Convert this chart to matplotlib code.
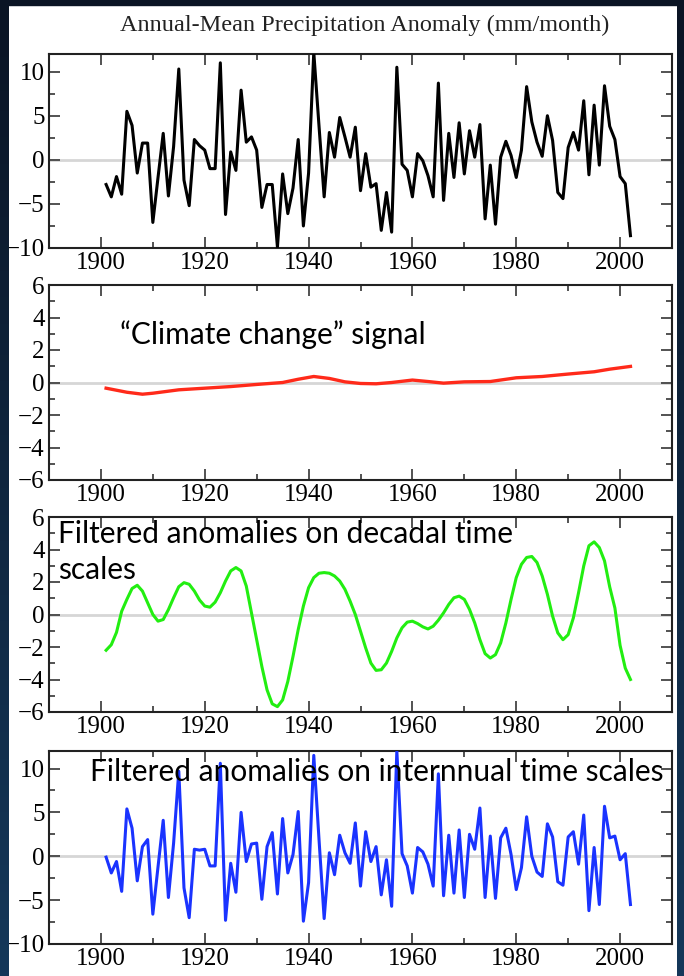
import numpy as np
import matplotlib
matplotlib.use("Agg")
import matplotlib.pyplot as plt
from matplotlib.ticker import MultipleLocator
from matplotlib.patches import Rectangle

# ── data ──────────────────────────────────────────────────────────────
years = list(range(1901, 2003))

annual = [
    -2.8, -4.2, -1.9, -3.9, 5.5, 3.9, -1.5, 1.9, 1.9, -7.1,
    -2.0, 3.0, -4.1, 1.5, 10.3, -2.3, -5.2, 2.3, 1.6, 1.1,
    -1.0, -1.0, 11.0, -6.2, 0.9, -1.2, 7.9, 2.0, 2.6, 1.1,
    -5.4, -2.8, -2.8, -9.9, -1.6, -6.1, -3.2, 2.3, -7.5, -1.5,
    12.2, 3.9, -4.2, 3.1, 0.3, 4.8, 2.6, 0.3, 3.7, -3.5,
    0.7, -3.1, -2.7, -8.0, -3.7, -8.2, 10.5, -0.5, -1.2, -4.2,
    0.7, -0.1, -1.8, -4.2, 8.7, -4.6, 3.0, -2.0, 4.2, -1.6,
    3.3, 0.3, 4.0, -6.7, -0.6, -7.3, 0.3, 2.1, 0.5, -2.0,
    1.1, 8.3, 4.3, 2.0, 0.4, 5.0, 2.2, -3.7, -4.4, 1.4,
    3.1, 1.1, 6.7, -1.7, 6.2, -0.6, 8.4, 3.8, 2.3, -1.9,
    -2.7, -8.6,
]

trend_years = [1901, 1905, 1908, 1910, 1915, 1920, 1925, 1930, 1935, 1938,
               1941, 1944, 1947, 1950, 1953, 1956, 1960, 1963, 1966, 1970,
               1975, 1980, 1985, 1990, 1995, 1998, 2002]
trend = [-0.35, -0.6, -0.72, -0.66, -0.45, -0.35, -0.25, -0.12, 0.0, 0.2,
         0.37, 0.25, 0.04, -0.06, -0.08, 0.0, 0.15, 0.06, -0.04, 0.04,
         0.06, 0.29, 0.37, 0.52, 0.66, 0.82, 0.99]

decadal = [
    -2.2, -1.86, -1.1, 0.2, 0.93, 1.6, 1.8, 1.44, 0.72, 0.0,
    -0.41, -0.31, 0.3, 1.03, 1.71, 1.96, 1.86, 1.44, 0.89, 0.52,
    0.45, 0.76, 1.34, 2.06, 2.68, 2.89, 2.68, 1.75, 0.1, -1.55,
    -3.2, -4.64, -5.5, -5.67, -5.26, -4.12, -2.58, -0.93, 0.52, 1.65,
    2.27, 2.54, 2.58, 2.54, 2.37, 2.06, 1.55, 0.82, 0.0, -1.03,
    -2.06, -2.99, -3.44, -3.4, -2.99, -2.27, -1.44, -0.82, -0.47, -0.41,
    -0.56, -0.76, -0.89, -0.72, -0.35, 0.1, 0.62, 1.03, 1.13, 0.93,
    0.31, -0.52, -1.55, -2.41, -2.68, -2.47, -1.75, -0.52, 0.93, 2.27,
    3.09, 3.51, 3.57, 3.2, 2.37, 1.24, -0.1, -1.13, -1.55, -1.24,
    -0.21, 1.34, 2.99, 4.23, 4.47, 4.12, 3.3, 1.7, 0.4, -1.9,
    -3.3, -4.0,
]

interannual = [
    -0.1, -1.9, -0.6, -4.0, 5.4, 3.2, -2.8, 1.1, 1.9, -6.6,
    -1.2, 4.1, -4.7, 1.5, 9.7, -3.6, -7.0, 0.8, 0.7, 0.8,
    -1.1, -1.1, 10.6, -7.3, -0.8, -4.1, 5.0, -0.6, 1.4, 1.5,
    -4.9, 1.1, 2.7, -4.3, 4.3, -1.9, 0.2, 5.1, -7.4, -3.0,
    11.5, 2.0, -7.1, 0.4, -2.1, 2.4, 0.4, -0.8, 3.8, -3.4,
    2.8, -0.6, 1.1, -4.4, -0.4, -5.7, 12.0, 0.3, -1.1, -4.2,
    1.0, 0.5, -0.9, -3.4, 9.4, -4.5, 2.4, -4.2, 3.0, -4.7,
    2.5, 0.8, 5.5, -4.7, 2.3, -4.8, 2.1, 3.2, 0.2, -3.8,
    -1.3, 4.5, 0.0, -1.8, -2.3, 3.7, 2.2, -2.9, -3.3, 2.2,
    2.8, -0.9, 4.7, -6.2, 1.0, -5.5, 5.7, 2.1, 2.3, -0.4,
    0.3, -5.5,
]

title = "Annual-Mean Precipitation Anomaly (mm/month)"
W, H = 684, 976

fig = plt.figure(figsize=(W / 100, H / 100), dpi=100)
fig.patch.set_facecolor("white")

# ── panel layout (pixel boxes top/bottom) ────────────────────────────
left, right = 49, 672
boxes = [(54, 248), (285, 480), (517, 712), (751, 944)]
serif = "Liberation Serif"
sans = "Lato"
note_size = 21.5


def make_ax(top, bottom, ylim, major, minor):
    ax = fig.add_axes([left / W, 1 - bottom / H, (right - left) / W, (bottom - top) / H])
    ax.set_xlim(1890, 2010)
    ax.set_ylim(*ylim)
    ax.xaxis.set_major_locator(MultipleLocator(20))
    ax.xaxis.set_minor_locator(MultipleLocator(10))
    ax.yaxis.set_major_locator(MultipleLocator(major))
    ax.yaxis.set_minor_locator(MultipleLocator(minor))
    ax.tick_params(which="both", direction="in", top=True, right=True,
                   color="#444444", width=1.3)
    ax.tick_params(which="major", length=8, labelsize=18, pad=3)
    ax.tick_params(which="minor", length=4)
    for s in ax.spines.values():
        s.set_linewidth(1.5)
        s.set_color("#222222")
    ax.axhline(0, color="#d6d6d6", lw=2, zorder=1)
    return ax


ax1 = make_ax(*boxes[0], (-10, 12), 5, 2.5)
ax1.plot(years, annual, color="black", lw=2.2, zorder=3)

ax2 = make_ax(*boxes[1], (-6, 6), 2, 1)
ax2.plot(trend_years, trend, color="#ff2a1a", lw=2.4, zorder=3)
ax2.text(0.114, 0.744, "\u201cClimate change\u201d signal", transform=ax2.transAxes,
         fontsize=note_size, family=sans, va="center", ha="left")

ax3 = make_ax(*boxes[2], (-6, 6), 2, 1)
ax3.plot(years, decadal, color="#22ee11", lw=2.2, zorder=3)
ax3.text(0.0144, 0.82, "Filtered anomalies on decadal time\nscales",
         transform=ax3.transAxes, fontsize=note_size, family=sans, va="center",
         ha="left", linespacing=1.35, zorder=5)

ax4 = make_ax(*boxes[3], (-10, 12), 5, 2.5)
ax4.plot(years, interannual, color="#1a33ff", lw=2.2, zorder=3)
ax4.text(0.0658, 0.891, "Filtered anomalies on internnual time scales",
         transform=ax4.transAxes, fontsize=note_size, family=sans, va="center",
         ha="left", zorder=5)

for ax in (ax1, ax2, ax3, ax4):
    for lab in ax.get_xticklabels() + ax.get_yticklabels():
        lab.set_fontfamily(serif)

fig.text(365 / W, 1 - 25 / H, title, ha="center", va="center",
         fontsize=17.5, family=serif, color="#222222")

# dark slide background showing at the edges
grad = np.linspace(0, 1, 256).reshape(-1, 1)
cmap = matplotlib.colors.LinearSegmentedColormap.from_list("slide", ["#0a1424", "#15385a"])
for x0, x1 in ((0, 9), (677, 684)):
    bax = fig.add_axes([x0 / W, 0, (x1 - x0) / W, 1], zorder=10)
    bax.imshow(grad, aspect="auto", cmap=cmap, extent=[0, 1, 0, 1], origin="upper")
    bax.axis("off")
fig.patches.append(Rectangle((0, 1 - 5 / H), 1, 5 / H, transform=fig.transFigure,
                             color="#0a1424", zorder=10))

fig.savefig("out.png", dpi=100)
